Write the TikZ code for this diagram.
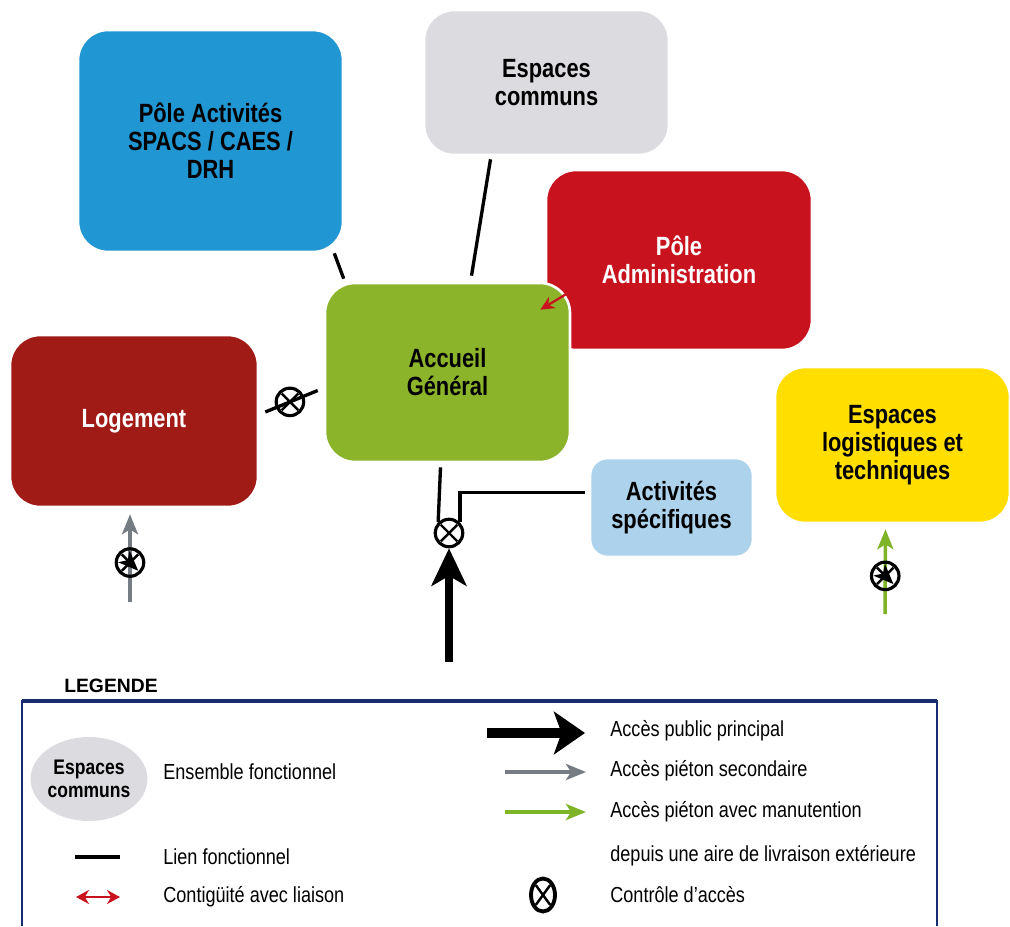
\documentclass[tikz,border=0pt]{standalone}
\usepackage{fontspec}
\setmainfont{Liberation Sans}[FakeStretch=0.83]
\newfontfamily\legtitlefont{Liberation Sans}
\usetikzlibrary{arrows.meta,positioning,calc,shapes.geometric}
\definecolor{PoleBlue}{RGB}{32,150,210}
\definecolor{CommunGray}{RGB}{220,220,224}
\definecolor{AdminRed}{RGB}{200,18,30}
\definecolor{AccueilGreen}{RGB}{140,180,42}
\definecolor{LogementRed}{RGB}{160,26,22}
\definecolor{ActivBlue}{RGB}{172,210,236}
\definecolor{LogistYellow}{RGB}{255,222,0}
\definecolor{LegendNavy}{RGB}{24,44,112}
\definecolor{PietonGray}{RGB}{118,124,132}
\definecolor{PietonGreen}{RGB}{128,180,40}

\tikzset{
  zone/.style={rounded corners=0.6cm, draw=white, line width=1.5pt,
    align=center, inner sep=0pt,
    font=\bfseries\fontsize{15}{16}\selectfont},
  lien/.style={line width=1.9pt, black},
  contig/.style={line width=1.3pt, AdminRed, -{Stealth[length=0.28cm,width=0.26cm]}},
  mainacc/.style={line width=4.6pt, black, -{Stealth[length=0.75cm,width=0.7cm,inset=0.2cm]}},
  pietsec/.style={line width=2pt, PietonGray, -{Stealth[length=0.4cm,width=0.32cm,inset=0.1cm]}},
  pietman/.style={line width=2pt, PietonGreen, -{Stealth[length=0.4cm,width=0.32cm,inset=0.1cm]}},
  ctrl/.style={ellipse, draw=black, line width=1.8pt, inner sep=0pt,
    minimum width=0.55cm, minimum height=0.55cm,
    path picture={\draw[black,line width=1.4pt]
      ($(path picture bounding box.south west)!0.2!(path picture bounding box.north east)$) --
      ($(path picture bounding box.south west)!0.8!(path picture bounding box.north east)$)
      ($(path picture bounding box.north west)!0.2!(path picture bounding box.south east)$) --
      ($(path picture bounding box.north west)!0.8!(path picture bounding box.south east)$);}},
  legtext/.style={anchor=west, inner sep=0pt, font=\fontsize{12.4}{14}\selectfont},
}

\begin{document}
\begin{tikzpicture}[x=0.02cm,y=-0.02cm]
  \useasboundingbox (0,0) rectangle (1010,926);

  % ensembles fonctionnels
  \node[zone, fill=PoleBlue, minimum width=5.3cm, minimum height=4.44cm]
    (poleact) at (210.5,141) {Pôle Activités\\SPACS / CAES /\\DRH};
  \node[zone, fill=CommunGray, minimum width=4.9cm, minimum height=2.9cm]
    (espaces) at (546.5,82.5) {Espaces\\communs};
  \node[zone, fill=AdminRed, text=white, minimum width=5.32cm, minimum height=3.6cm]
    (admin) at (679,260) {Pôle\\Administration};
  \node[zone, fill=AccueilGreen, minimum width=4.9cm, minimum height=3.58cm]
    (accueil) at (447.5,372.5) {Accueil\\Général};
  \node[zone, fill=LogementRed, text=white, minimum width=4.96cm, minimum height=3.44cm]
    (logement) at (134,421) {Logement};
  \node[zone, fill=ActivBlue, rounded corners=0.35cm, minimum width=3.26cm, minimum height=1.98cm]
    (activ) at (671.5,507.5) {Activités\\spécifiques};
  \node[zone, fill=LogistYellow, minimum width=4.7cm, minimum height=3.12cm]
    (logist) at (892.5,445) {Espaces\\logistiques et\\techniques};

  % liens
  \draw[lien] ($(poleact.south east)+(-10,0)$) -- ($(accueil.north west)+(20,-3)$);
  \draw[lien] ($(espaces.south)+(-56,3)$) -- ($(accueil.north)+(24,-6)$);
  \draw[contig] ($(admin.south west)+(46,-72)$) -- ($(accueil.north east)+(-31,28)$);
  \draw[lien] ($(logement.east)+(6,-9)$) -- ($(accueil.west)+(-6,18)$)
    node[ctrl, pos=0.47] (ctrllog) {};

  % acces
  \node[ctrl] (ctrlmain) at (449,533) {};
  \coordinate (mainsrc) at (449,662);
  \draw[mainacc] (mainsrc) -- (ctrlmain.south);
  \draw[lien] ($(accueil.south)+(-7,4)$) -- (ctrlmain.north west);
  \draw[lien] (ctrlmain.north east) |- ($(activ.west)+(-4,-15)$);
  \coordinate (lgsrc) at (130,602);
  \draw[pietsec] (lgsrc) -- ($(logement.south)+(-4,6)$) node[ctrl, pos=0.45] (ctrllg) {};
  \coordinate (logsrc) at (885,614);
  \draw[pietman] (logsrc) -- ($(logist.south)+(-7,5)$) node[ctrl, pos=0.45] (ctrllgt) {};

  % legende
  \node[font=\legtitlefont\bfseries\fontsize{11}{13}\selectfont] (legtitle) at (111,686) {LEGENDE};
  \draw[LegendNavy, line width=1pt] (22,926) -- (22,701) -- (937,701) -- (937,926);
  \draw[LegendNavy, line width=2pt] (22,701) -- (937,701);

  \node[ellipse, fill=CommunGray, minimum width=2.08cm, minimum height=1.68cm, inner sep=0pt,
    align=center, font=\bfseries\fontsize{12}{13}\selectfont] (legell) at (89,779) {Espaces\\communs};
  \node[legtext] (legens) at (163,772) {Ensemble fonctionnel};

  \coordinate (klienA) at (75,857);
  \coordinate (klienB) at (120,857);
  \draw[lien, line width=2.6pt] (klienA) -- (klienB);
  \node[legtext] (leglien) at (163,857) {Lien fonctionnel};

  \coordinate (kcontA) at (76,897);
  \coordinate (kcontB) at (120,897);
  \draw[AdminRed, line width=1.4pt, {Stealth[length=0.26cm,width=0.28cm]}-{Stealth[length=0.26cm,width=0.28cm]}] (kcontA) -- (kcontB);
  \node[legtext] (legcont) at (163,897) {Contigüité avec liaison};

  \coordinate (kpubA) at (487,733);
  \coordinate (kpubB) at (585,733);
  \draw[line width=6pt, black, -{Stealth[length=0.62cm,width=0.85cm,inset=0.15cm]}] (kpubA) -- (kpubB);
  \node[legtext] (legpub) at (610,731) {Accès public principal};

  \coordinate (ksecA) at (505,772);
  \coordinate (ksecB) at (586,772);
  \draw[pietsec] (ksecA) -- (ksecB);
  \node[legtext] (legsec) at (610,771) {Accès piéton secondaire};

  \coordinate (kmanA) at (505,812);
  \coordinate (kmanB) at (586,812);
  \draw[pietman] (kmanA) -- (kmanB);
  \node[legtext] (legman) at (610,812) {Accès piéton avec manutention};
  \node[legtext] (legliv) at (610,856) {depuis une aire de livraison extérieure};

  \node[ctrl, line width=2.2pt, minimum height=0.66cm, minimum width=0.48cm] (kctrl) at (543,895) {};
  \node[legtext] (legctrl) at (610,895) {Contrôle d'accès};
\end{tikzpicture}
\end{document}
